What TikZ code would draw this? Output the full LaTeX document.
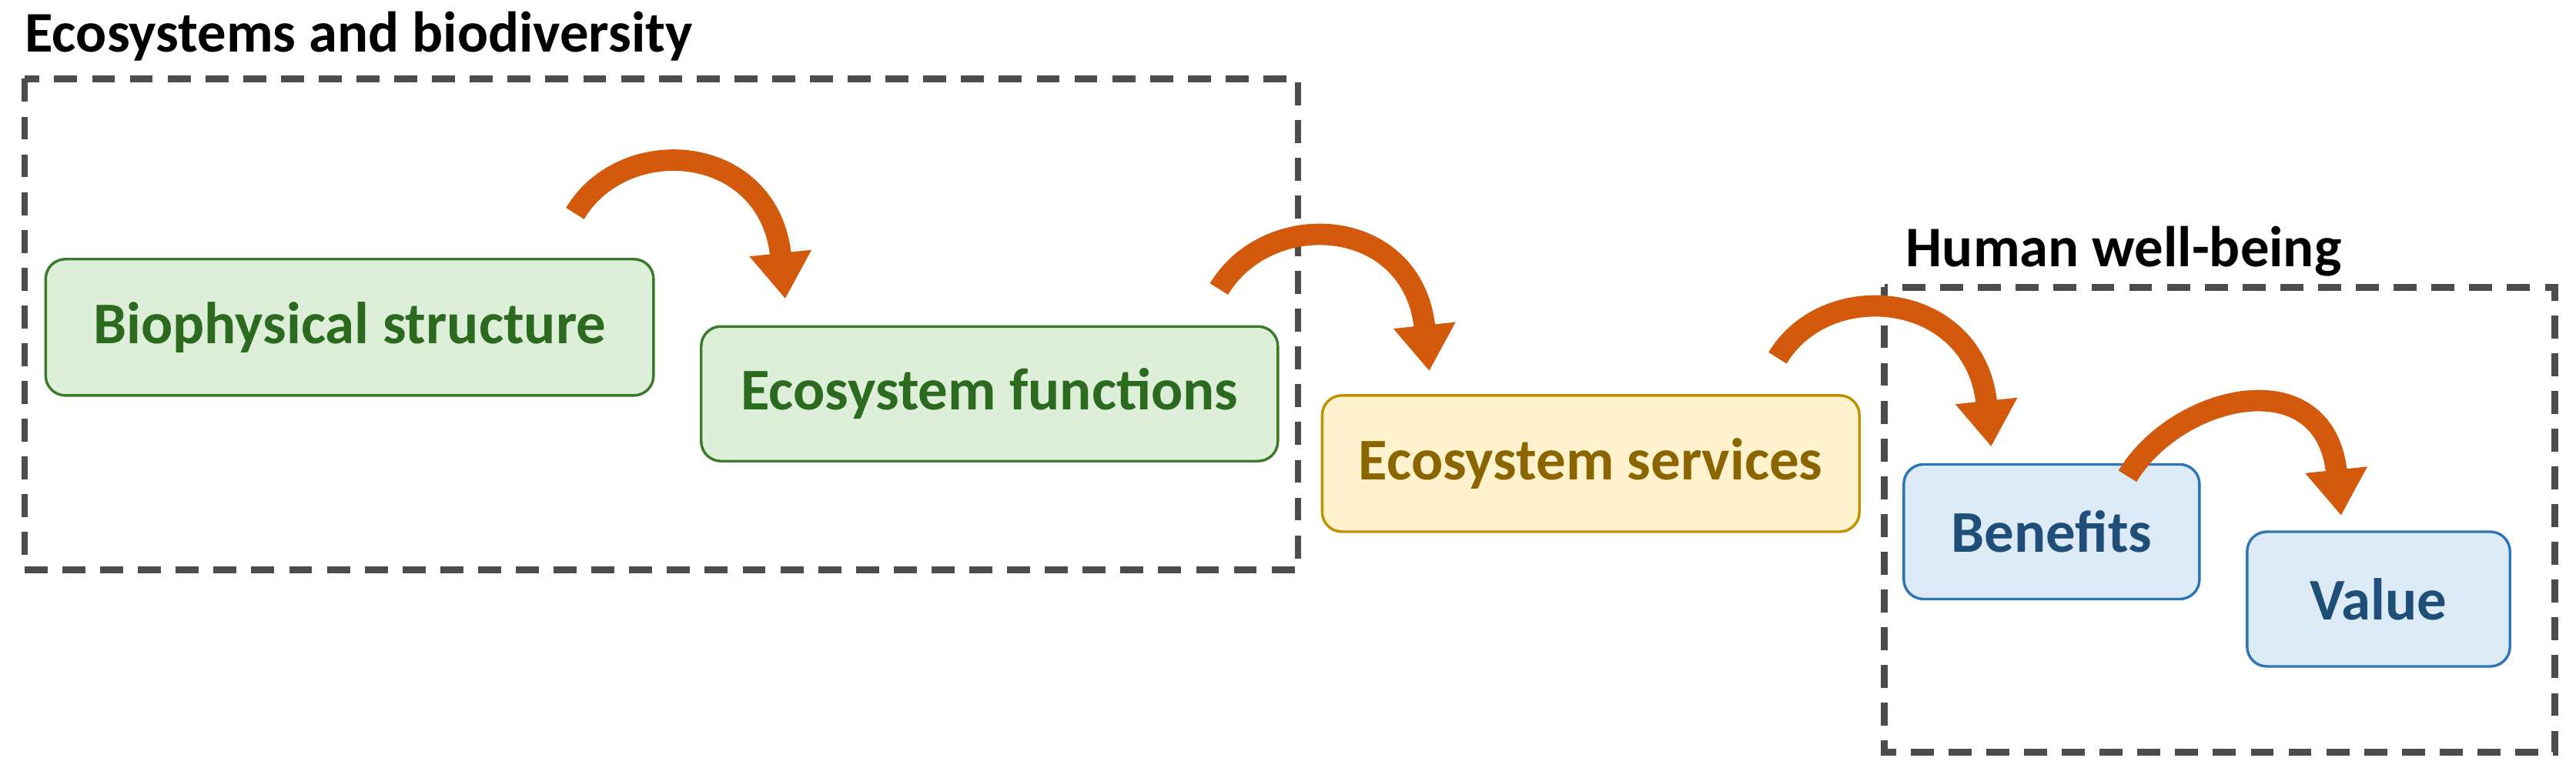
\documentclass[tikz,border=0pt]{standalone}
\usepackage{fontspec}
\setmainfont{Carlito}
\usetikzlibrary{arrows.meta,calc}
\definecolor{gfill}{HTML}{DDEFD9}\definecolor{gline}{HTML}{3A7A2A}\definecolor{gtext}{HTML}{2B6A1F}
\definecolor{yfill}{HTML}{FFF2CC}\definecolor{yline}{HTML}{BF9000}\definecolor{ytext}{HTML}{8A6500}
\definecolor{bfill}{HTML}{DDEBF7}\definecolor{bline}{HTML}{2E75B6}\definecolor{btext}{HTML}{1F4E79}
\definecolor{arr}{HTML}{D35A0C}
\begin{document}
\begin{tikzpicture}[x=1pt,y=-1pt,
  box/.style={rounded corners=12pt,line width=1.6pt,font=\fontsize{36}{38}\selectfont\bfseries,anchor=north west,inner sep=0pt},
  grp/.style={draw=black!70,line width=4pt,dash pattern=on 14pt off 9pt},
  lab/.style={font=\fontsize{35}{37}\selectfont\bfseries,anchor=west,inner sep=0pt},
  bendarr/.style={line width=13pt,color=arr,-{Triangle[width=36pt,length=28pt]}}]
\useasboundingbox (0,0) rectangle (1568,473.7);
\draw[grp] (15,48) rectangle (790,347);
\node[lab] (l1) at (15,22) {Ecosystems and biodiversity};
\draw[grp] (1147,175) rectangle (1555,458);
\node[lab] (l2) at (1160,153) {Human well-being};
\node[box,fill=gfill,draw=gline,text=gtext,minimum width=370pt,minimum height=83pt] (b1) at (27,157) {Biophysical structure};
\node[box,fill=gfill,draw=gline,text=gtext,minimum width=351pt,minimum height=82pt] (b2) at (426,198) {Ecosystem functions};
\node[box,fill=yfill,draw=yline,text=ytext,minimum width=327pt,minimum height=83pt] (b3) at (804,240) {Ecosystem services};
\node[box,fill=bfill,draw=bline,text=btext,minimum width=180pt,minimum height=82pt] (b4) at (1158,282) {Benefits};
\node[box,fill=bfill,draw=bline,text=btext,minimum width=160pt,minimum height=82pt] (b5) at (1367,323) {Value};
\coordinate (s1) at (350,130); \coordinate (e1) at (478,182);
\coordinate (s2) at (742,176); \coordinate (e2) at (870,226);
\coordinate (s3) at (1082,218); \coordinate (e3) at (1212,272);
\coordinate (s4) at (1295,290); \coordinate (e4) at (1425,314);
\foreach \a/\b in {s1/e1,s2/e2,s3/e3,s4/e4}{
  \draw[bendarr] (\a) .. controls ($(\a)+(30,-50)$) and ($(\b)+(-10,-95)$) .. (\b);
}
\end{tikzpicture}
\end{document}
